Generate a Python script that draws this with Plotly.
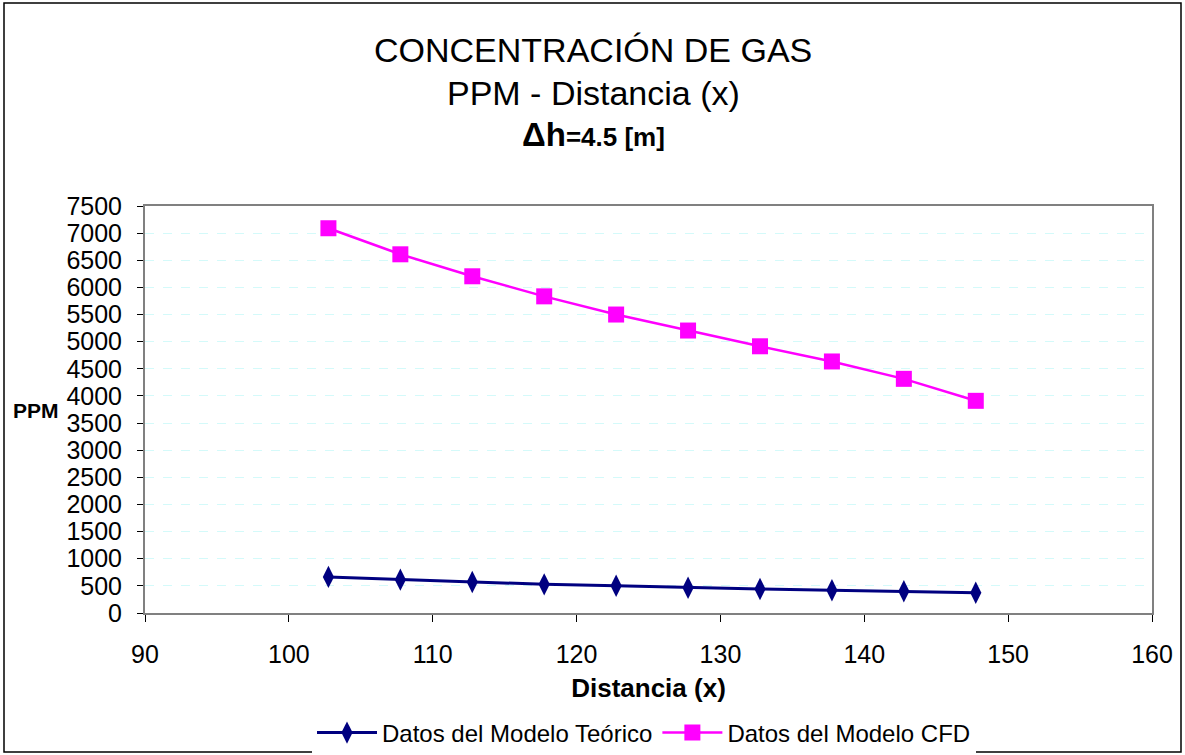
import plotly.graph_objects as go

x_vals = [102.75, 107.75, 112.75, 117.75, 122.75, 127.75, 132.75, 137.75, 142.75, 147.75]
teorico = [665, 615, 572, 528, 502, 466, 442, 418, 400, 372]
cfd = [7090, 6610, 6205, 5835, 5500, 5205, 4915, 4635, 4315, 3910]
y_ticks = list(range(0, 7501, 500))
x_ticks = list(range(90, 161, 10))

FONT = "Liberation Sans, Arial, sans-serif"

fig = go.Figure()
fig.add_trace(go.Scatter(
    x=x_vals, y=teorico, mode="lines+markers", name="Datos del Modelo Teórico",
    line=dict(color="#000080", width=3),
    marker=dict(symbol="diamond-tall", size=16, color="#000080"),
))
fig.add_trace(go.Scatter(
    x=x_vals, y=cfd, mode="lines+markers", name="Datos del Modelo CFD",
    line=dict(color="#FF00FF", width=2.5),
    marker=dict(symbol="square", size=16, color="#FF00FF"),
))

fig.update_layout(
    width=1185, height=755,
    margin=dict(l=145, r=33, t=206, b=142, autoexpand=False),
    paper_bgcolor="white", plot_bgcolor="white",
    font=dict(family=FONT, color="black"),
    showlegend=True,
    legend=dict(orientation="h", xref="container", x=644 / 1185, xanchor="center",
                yref="container", y=(755 - 733) / 755, yanchor="middle",
                font=dict(size=24, family=FONT), itemwidth=60, tracegroupgap=0),
)
fig.update_xaxes(
    range=[90, 160], tickvals=x_ticks, ticks="outside", ticklen=7, tickcolor="black",
    tickfont=dict(size=25, family=FONT), ticklabelstandoff=11, automargin=False,
    showline=True, linecolor="#808080", linewidth=2, mirror=True,
    showgrid=False, zeroline=False,
    title=dict(text="<b>Distancia (x)</b>", font=dict(size=26, family=FONT), standoff=12),
)
fig.update_yaxes(
    range=[0, 7500], tickvals=y_ticks, ticks="outside", ticklen=6, tickcolor="black",
    tickfont=dict(size=25, family=FONT), ticklabelstandoff=10, automargin=False,
    showline=True, linecolor="#808080", linewidth=2, mirror=True,
    showgrid=True, gridcolor="#d4fafa", griddash="dash", gridwidth=1,
    zeroline=False,
)

# Y-axis label (horizontal)
fig.add_annotation(text="<b>PPM</b>", xref="paper", yref="paper", x=(11 - 145) / 1007,
                   y=(613 - 410) / 407,
                   xanchor="left", yanchor="middle", showarrow=False,
                   font=dict(size=21, family=FONT))

# Title lines
TX = (593 - 145) / 1007
fig.add_annotation(text="CONCENTRACIÓN DE GAS", xref="paper", yref="paper",
                   x=TX, y=(613 - 50) / 407, xanchor="center", yanchor="middle",
                   showarrow=False, font=dict(size=34, family=FONT))
fig.add_annotation(text="PPM - Distancia (x)", xref="paper", yref="paper",
                   x=TX, y=(613 - 93) / 407, xanchor="center", yanchor="middle",
                   showarrow=False, font=dict(size=34, family=FONT))
fig.add_annotation(text="<b><span style='font-size:33px'>Δh</span>=4.5 [m]</b>", xref="paper", yref="paper",
                   x=TX, y=(613 - 135) / 407, xanchor="center", yanchor="middle",
                   showarrow=False, font=dict(size=26, family=FONT))

# Outer border
fig.add_shape(type="rect", xref="paper", yref="paper",
              x0=(4 - 145) / 1007, x1=(1181 - 145) / 1007,
              y0=(613 - 752) / 407, y1=(613 - 3) / 407,
              line=dict(color="black", width=1.5), fillcolor="rgba(0,0,0,0)", layer="below")

fig.write_html("out.html")
